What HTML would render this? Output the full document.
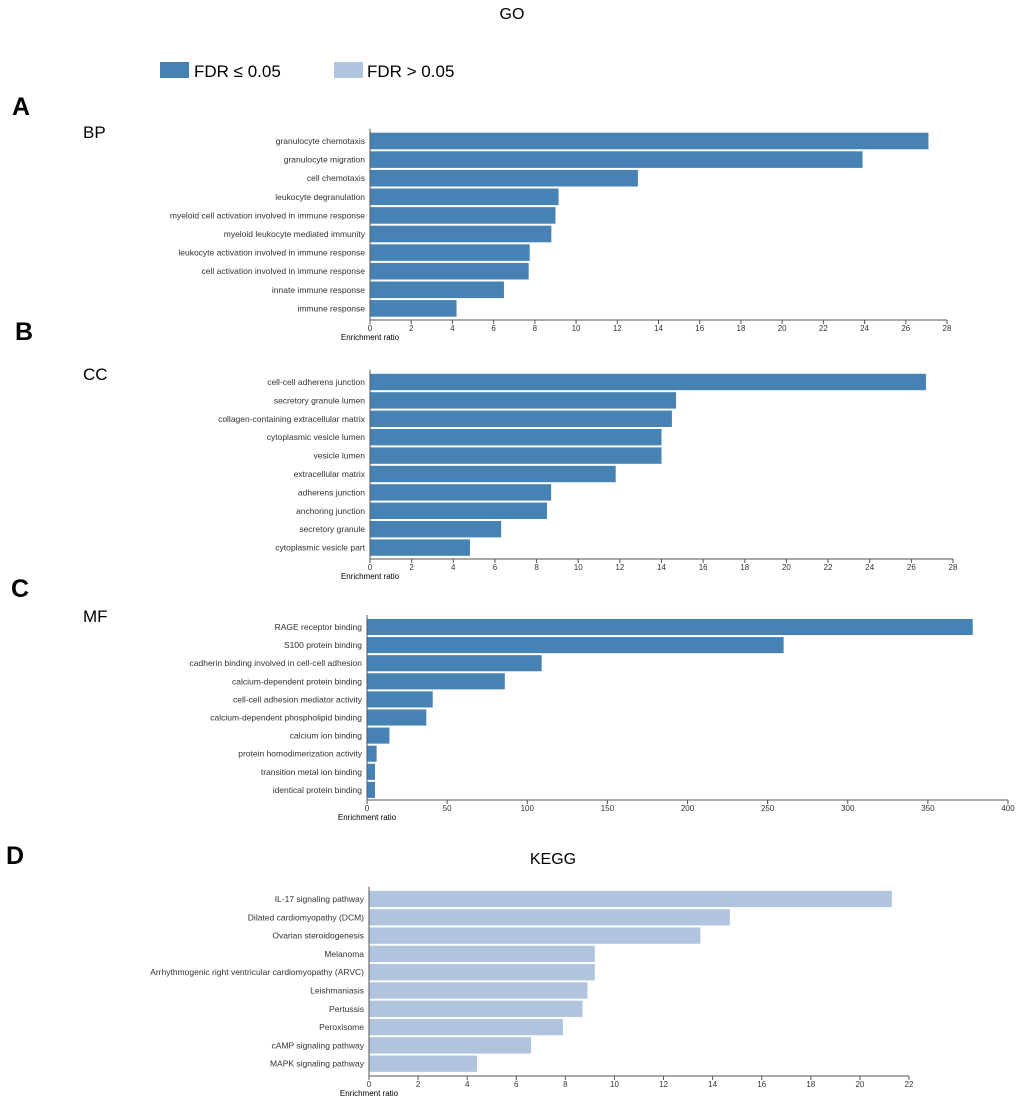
<!DOCTYPE html>
<html><head><meta charset="utf-8">
<style>
html,body{margin:0;padding:0;background:#fff;}
svg{display:block;font-family:"Liberation Sans","DejaVu Sans",sans-serif;}
</style></head>
<body>
<svg id="chart" width="1020" height="1100" viewBox="0 0 1020 1100" xmlns="http://www.w3.org/2000/svg">
<text x="512" y="19" font-size="16" text-anchor="middle" fill="#000">GO</text>
<text x="553" y="864" font-size="16" text-anchor="middle" fill="#000">KEGG</text>
<rect x="160" y="62" width="29" height="16" fill="#4682b4"/>
<text x="194" y="77" font-size="17" fill="#000">FDR ≤ 0.05</text>
<rect x="334" y="62" width="29" height="16" fill="#b0c4de"/>
<text x="367" y="77" font-size="17" fill="#000">FDR &gt; 0.05</text>
<text x="12" y="115" font-size="25" font-weight="bold">A</text>
<text x="15" y="340" font-size="25" font-weight="bold">B</text>
<text x="11" y="597" font-size="25" font-weight="bold">C</text>
<text x="6" y="864" font-size="25" font-weight="bold">D</text>
<text x="83" y="138" font-size="17">BP</text>
<text x="83" y="380" font-size="17">CC</text>
<text x="83" y="622" font-size="17">MF</text>
</svg>
<script>
const bpCategories = ["granulocyte chemotaxis","granulocyte migration","cell chemotaxis","leukocyte degranulation","myeloid cell activation involved in immune response","myeloid leukocyte mediated immunity","leukocyte activation involved in immune response","cell activation involved in immune response","innate immune response","immune response"];
const bpValues = [27.1,23.9,13.0,9.15,9.0,8.8,7.75,7.7,6.5,4.2];
const bpTicks = [0,2,4,6,8,10,12,14,16,18,20,22,24,26,28];
const ccCategories = ["cell-cell adherens junction","secretory granule lumen","collagen-containing extracellular matrix","cytoplasmic vesicle lumen","vesicle lumen","extracellular matrix","adherens junction","anchoring junction","secretory granule","cytoplasmic vesicle part"];
const ccValues = [26.7,14.7,14.5,14.0,14.0,11.8,8.7,8.5,6.3,4.8];
const ccTicks = [0,2,4,6,8,10,12,14,16,18,20,22,24,26,28];
const mfCategories = ["RAGE receptor binding","S100 protein binding","cadherin binding involved in cell-cell adhesion","calcium-dependent protein binding","cell-cell adhesion mediator activity","calcium-dependent phospholipid binding","calcium ion binding","protein homodimerization activity","transition metal ion binding","identical protein binding"];
const mfValues = [378,260,109,86,41,37,14,6,5,5];
const mfTicks = [0,50,100,150,200,250,300,350,400];
const keggCategories = ["IL-17 signaling pathway","Dilated cardiomyopathy (DCM)","Ovarian steroidogenesis","Melanoma","Arrhythmogenic right ventricular cardiomyopathy (ARVC)","Leishmaniasis","Pertussis","Peroxisome","cAMP signaling pathway","MAPK signaling pathway"];
const keggValues = [21.3,14.7,13.5,9.2,9.2,8.9,8.7,7.9,6.6,4.4];
const keggTicks = [0,2,4,6,8,10,12,14,16,18,20,22];

const NS = "http://www.w3.org/2000/svg";
const svg = document.getElementById("chart");
function mk(tag, attrs){const e=document.createElementNS(NS,tag);for(const k in attrs)e.setAttribute(k,attrs[k]);return e;}

function drawPanel(key, cats, vals, ticks, x0, x1, firstCenter, pitch, axisY, color){
  const max = ticks[ticks.length-1];
  const xs = v => x0 + (v/max)*(x1-x0);
  const g = mk("g",{});
  
  
  svg.appendChild(g);
  const bh = pitch - 2;
  cats.forEach((c,i)=>{
    const cy = firstCenter + i*pitch;
    const r = mk("rect",{x:x0,y:cy-bh/2,width:Math.max(0,xs(vals[i])-x0),height:bh,fill:color});
    
    
    g.appendChild(r);
    const t = mk("text",{x:x0-5,y:cy+3,"font-size":"8.5","text-anchor":"end",fill:"#333"});
    t.textContent = c;
    
    
    g.appendChild(t);
  });
  const top = firstCenter - pitch/2 - 3;
  const yl = mk("line",{x1:x0,y1:top,x2:x0,y2:axisY,stroke:"#555","stroke-width":1});
  
  
  g.appendChild(yl);
  const xl = mk("line",{x1:x0,y1:axisY,x2:x1,y2:axisY,stroke:"#555","stroke-width":1});
  
  
  g.appendChild(xl);
  ticks.forEach(tv=>{
    const x = xs(tv);
    const tk = mk("line",{x1:x,y1:axisY,x2:x,y2:axisY+4,stroke:"#555","stroke-width":1});
    
    
    g.appendChild(tk);
    const tl = mk("text",{x:x,y:axisY+11,"font-size":"8","text-anchor":"middle",fill:"#333"});
    tl.textContent = tv;
    
    
    g.appendChild(tl);
  });
  const at = mk("text",{x:x0,y:axisY+20,"font-size":"8","text-anchor":"middle",fill:"#000"});
  at.textContent = "Enrichment ratio";
  
  
  g.appendChild(at);
}
drawPanel("bp", bpCategories, bpValues, bpTicks, 370, 947, 141, 18.6, 320, "#4682b4");
drawPanel("cc", ccCategories, ccValues, ccTicks, 370, 953, 382, 18.4, 559, "#4682b4");
drawPanel("mf", mfCategories, mfValues, mfTicks, 367, 1008, 627, 18.1, 800, "#4682b4");
drawPanel("kegg", keggCategories, keggValues, keggTicks, 369, 909, 899, 18.3, 1076, "#b0c4de");
</script>
</body></html>
